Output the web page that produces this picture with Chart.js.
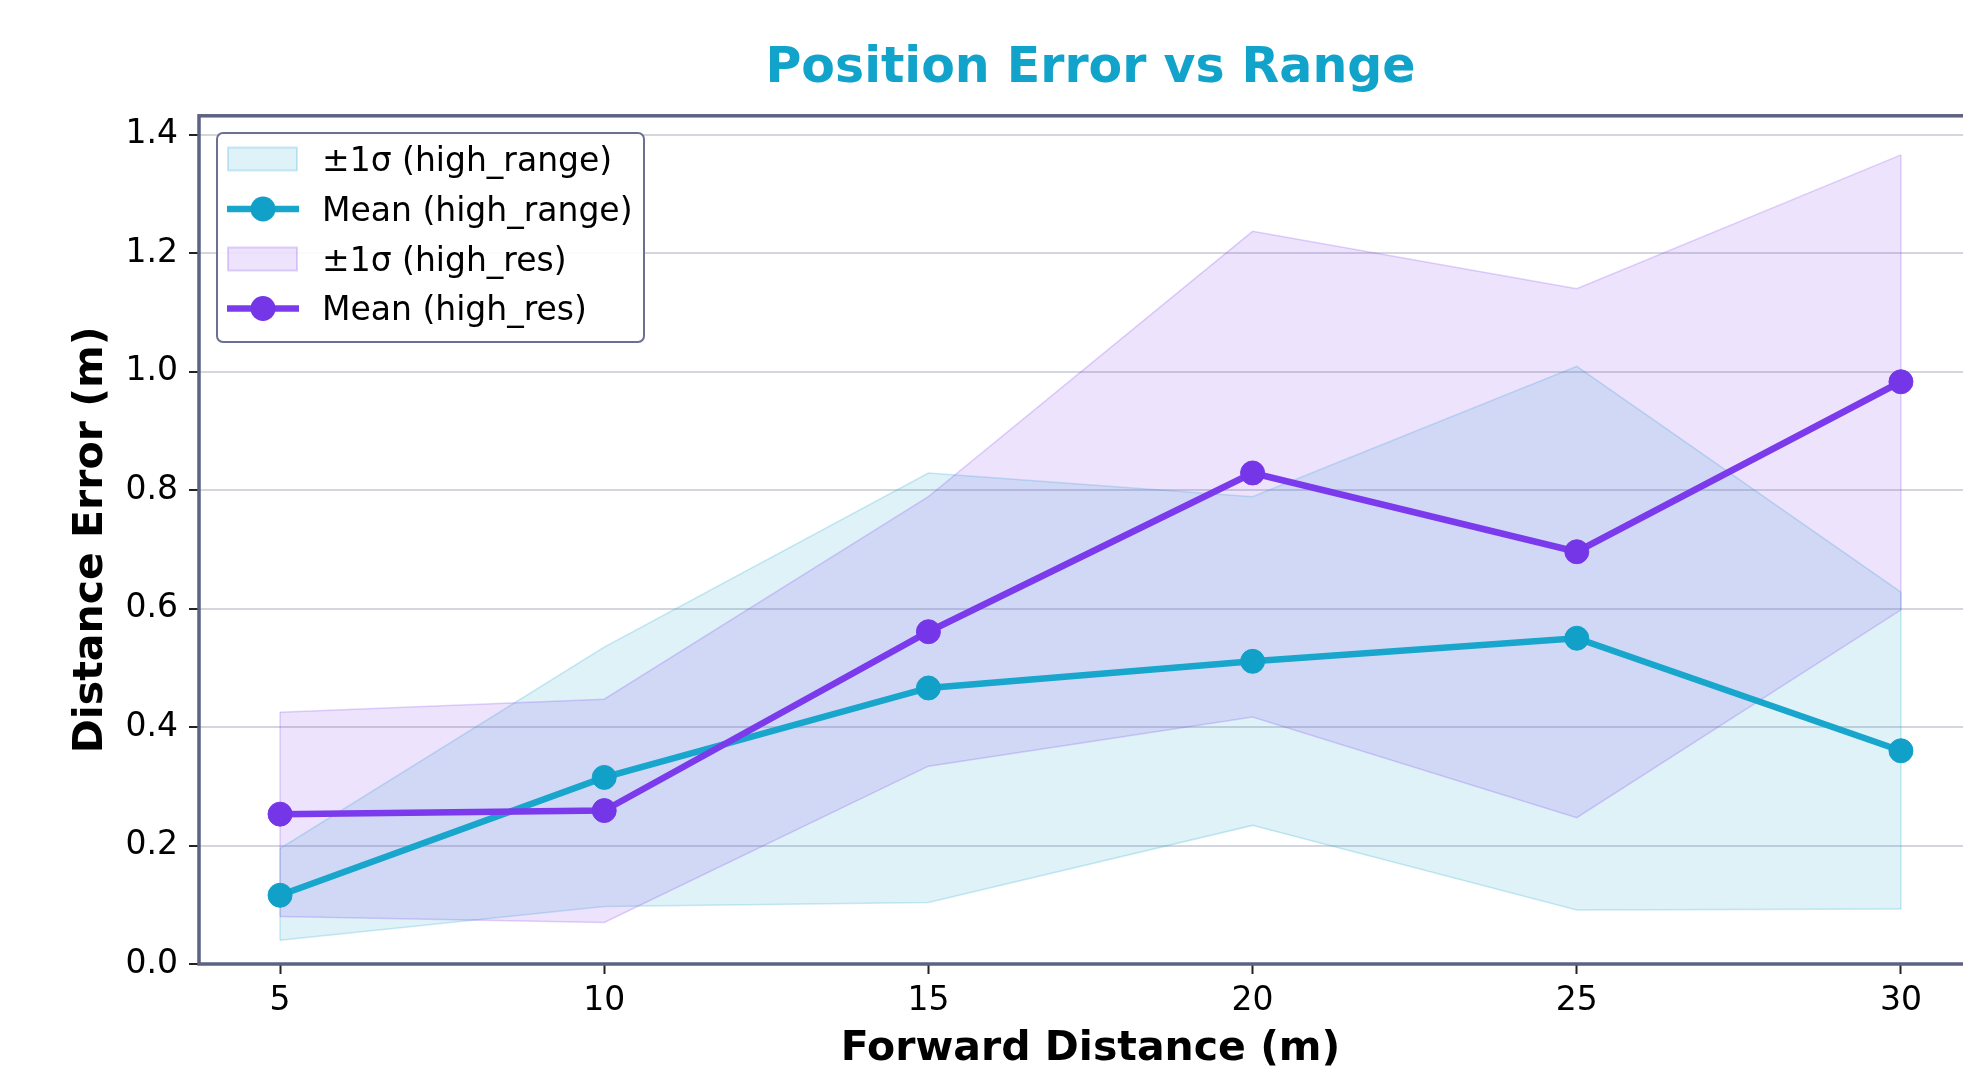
<!DOCTYPE html>
<html>
<head>
<meta charset="utf-8">
<title>Position Error vs Range</title>
<script src="https://cdn.jsdelivr.net/npm/chart.js@4.4.1/dist/chart.umd.min.js"></script>
<style>
    html, body { margin: 0; padding: 0; background: #fff; overflow: hidden; }
    #wrap { position: absolute; left: 0; top: 0; width: 2000px; height: 1100px; }
</style>
</head>
<body>
<div id="wrap"><canvas id="errorChart" width="2000" height="1100"></canvas></div>
<script>
// Values
const distances = [5, 10, 15, 20, 25, 30];
const xTicks = [5, 10, 15, 20, 25, 30];
const yTicks = [0, 0.2, 0.4, 0.6, 0.8, 1.0, 1.2, 1.4];

const highRangeMean  = [0.116, 0.315, 0.466, 0.511, 0.550, 0.360];
const highRangeLower = [0.040, 0.097, 0.104, 0.234, 0.091, 0.093];
const highRangeUpper = [0.195, 0.535, 0.829, 0.789, 1.009, 0.628];

const highResMean  = [0.253, 0.259, 0.561, 0.829, 0.696, 0.983];
const highResLower = [0.080, 0.070, 0.334, 0.417, 0.247, 0.598];
const highResUpper = [0.425, 0.447, 0.789, 1.237, 1.140, 1.366];

const legendLabels = ['±1σ (high_range)', 'Mean (high_range)', '±1σ (high_res)', 'Mean (high_res)'];

// Colors
const cyan = '#19a6cc';
const cyanDot = '#11a1c8';
const cyanFill = 'rgba(23, 165, 204, 0.14)';
const cyanEdge = 'rgba(23, 165, 204, 0.22)';
const purple = '#7b3bec';
const purpleDot = '#7536e8';
const purpleFill = 'rgba(124, 58, 237, 0.14)';
const purpleEdge = 'rgba(124, 58, 237, 0.22)';
const spineColor = '#5c6282';

const FONT = "'DejaVu Sans', sans-serif";
Chart.defaults.font.family = FONT;
Chart.defaults.color = '#000';

function toPoints(values) {
    return distances.map((d, i) => ({ x: d, y: values[i] }));
}

// Close the band polygons at both ends, like fill_between does
const bandEdges = {
    id: 'bandEdges',
    afterDatasetDraw(chart, args) {
        const ds = chart.data.datasets[args.index];
        if (!ds.bandEdge) return;
        const upper = args.meta.data;
        const lower = chart.getDatasetMeta(args.index - 1).data;
        const ctx = chart.ctx;
        ctx.save();
        ctx.strokeStyle = ds.borderColor;
        ctx.lineWidth = ds.borderWidth;
        [0, upper.length - 1].forEach(i => {
            ctx.beginPath();
            ctx.moveTo(upper[i].x, upper[i].y);
            ctx.lineTo(lower[i].x, lower[i].y);
            ctx.stroke();
        });
        ctx.restore();
    }
};

// Axes frame
const spines = {
    id: 'spines',
    afterDatasetsDraw(chart) {
        const { ctx, chartArea: a } = chart;
        ctx.save();
        ctx.strokeStyle = spineColor;
        ctx.lineWidth = 3.5;
        ctx.strokeRect(a.left, a.top, a.right - a.left, a.bottom - a.top);
        ctx.restore();
    }
};

// Legend inside the axes, upper left
const innerLegend = {
    id: 'innerLegend',
    afterDraw(chart) {
        const ctx = chart.ctx;
        const box = { x: 217, y: 133, w: 427, h: 209 };
        ctx.save();
        ctx.beginPath();
        ctx.roundRect(box.x, box.y, box.w, box.h, 6);
        ctx.fillStyle = 'rgba(255,255,255,0.9)';
        ctx.fill();
        ctx.lineWidth = 2;
        ctx.strokeStyle = '#6b7090';
        ctx.stroke();

        const rows = [162, 212, 262, 311.5];
        const styles = [
            { type: 'patch', fill: cyanFill, edge: cyanEdge },
            { type: 'line', color: cyan, dot: cyanDot },
            { type: 'patch', fill: purpleFill, edge: purpleEdge },
            { type: 'line', color: purple, dot: purpleDot }
        ];
        rows.forEach((y, i) => {
            const s = styles[i];
            const cy = y - 3;
            if (s.type === 'patch') {
                ctx.fillStyle = s.fill;
                ctx.fillRect(228, cy - 11.5, 69, 23);
                ctx.strokeStyle = s.edge;
                ctx.lineWidth = 2;
                ctx.strokeRect(228, cy - 11.5, 69, 23);
            } else {
                ctx.strokeStyle = s.color;
                ctx.lineWidth = 6.5;
                ctx.beginPath();
                ctx.moveTo(227, cy);
                ctx.lineTo(299, cy);
                ctx.stroke();
                ctx.fillStyle = s.dot;
                ctx.beginPath();
                ctx.arc(263, cy, 12.5, 0, Math.PI * 2);
                ctx.fill();
            }
            ctx.fillStyle = '#000';
            ctx.font = `33px ${FONT}`;
            ctx.textBaseline = 'middle';
            ctx.textAlign = 'left';
            ctx.fillText(legendLabels[i], 322, y);
        });
        ctx.restore();
    }
};

const ctx = document.getElementById('errorChart').getContext('2d');

// Fills sit below both mean lines (matplotlib zorder), so bands get higher order
new Chart(ctx, {
    type: 'line',
    data: {
        datasets: [
            {
                label: legendLabels[0], data: toPoints(highRangeLower),
                borderColor: cyanEdge, borderWidth: 1.5, pointRadius: 0, fill: false, order: 40
            },
            {
                label: legendLabels[0], data: toPoints(highRangeUpper),
                borderColor: cyanEdge, borderWidth: 1.5, backgroundColor: cyanFill,
                pointRadius: 0, fill: '-1', order: 40, bandEdge: true
            },
            {
                label: legendLabels[1], data: toPoints(highRangeMean),
                borderColor: cyan, borderWidth: 6.5, fill: false, order: 20,
                pointRadius: 12, pointBackgroundColor: cyanDot, pointBorderColor: cyanDot, pointBorderWidth: 1
            },
            {
                label: legendLabels[2], data: toPoints(highResLower),
                borderColor: purpleEdge, borderWidth: 1.5, pointRadius: 0, fill: false, order: 30
            },
            {
                label: legendLabels[2], data: toPoints(highResUpper),
                borderColor: purpleEdge, borderWidth: 1.5, backgroundColor: purpleFill,
                pointRadius: 0, fill: '-1', order: 30, bandEdge: true
            },
            {
                label: legendLabels[3], data: toPoints(highResMean),
                borderColor: purple, borderWidth: 6.5, fill: false, order: 10,
                pointRadius: 12, pointBackgroundColor: purpleDot, pointBorderColor: purpleDot, pointBorderWidth: 1
            }
        ]
    },
    options: {
        responsive: false,
        animation: false,
        layout: { padding: { left: 0, right: 18, top: 0, bottom: 0 } },
        elements: { line: { tension: 0 } },
        plugins: {
            legend: { display: false },
            tooltip: { enabled: false },
            title: {
                display: true,
                text: 'Position Error vs Range',
                fullSize: false,
                color: '#12a3cb',
                font: { size: 49, weight: 'bold' },
                padding: { top: 40, bottom: 17 }
            }
        },
        scales: {
            x: {
                type: 'linear',
                min: 3.75,
                max: 31.25,
                afterBuildTicks: scale => { scale.ticks = xTicks.map(v => ({ value: v })); },
                afterFit: scale => { scale.height = 136; },
                border: { display: false },
                grid: { drawOnChartArea: false, drawTicks: true, tickLength: 10, tickWidth: 2, tickColor: '#222' },
                ticks: {
                    padding: 8, color: '#000', font: { size: 33 },
                    maxRotation: 0, autoSkip: false,
                    callback: v => String(v)
                },
                title: {
                    display: true, text: 'Forward Distance (m)', color: '#000',
                    font: { size: 41, weight: 'bold' },
                    padding: { top: 0, bottom: 26 }
                }
            },
            y: {
                min: 0,
                max: 1.432,
                afterBuildTicks: scale => { scale.ticks = yTicks.map(v => ({ value: v })); },
                afterFit: scale => { scale.width = 199; },
                border: { display: false },
                grid: {
                    color: 'rgba(150, 150, 170, 0.4)', lineWidth: 2,
                    tickLength: 10, tickWidth: 2, tickColor: '#222'
                },
                ticks: {
                    padding: 11, color: '#000', font: { size: 33 },
                    callback: v => v.toFixed(1)
                },
                title: {
                    display: true, text: 'Distance Error (m)', color: '#000',
                    font: { size: 41, weight: 'bold' },
                    padding: { top: 67, bottom: 0 }
                }
            }
        }
    },
    plugins: [bandEdges, spines, innerLegend]
});
</script>
</body>
</html>
